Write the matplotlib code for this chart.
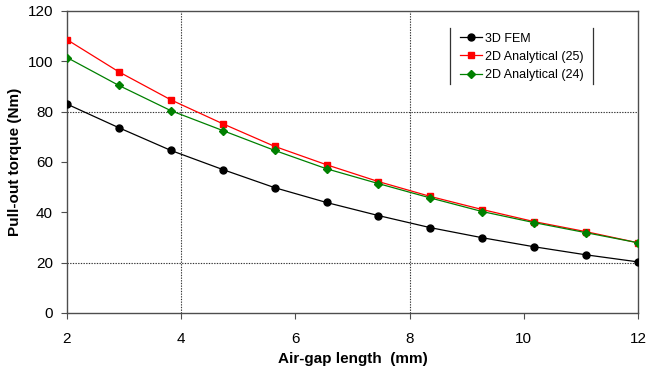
import matplotlib
matplotlib.use("Agg")
import matplotlib.pyplot as plt
from matplotlib.lines import Line2D

plt.rcParams['font.family'] = ['Liberation Sans', 'DejaVu Sans']

# Air-gap lengths (mm)
air_gap = [2.0, 2.909, 3.818, 4.727, 5.636, 6.545, 7.455, 8.364, 9.273, 10.182, 11.091, 12.0]

# Pull-out torque (Nm)
fem_3d = [83.0, 73.6, 64.6, 57.0, 49.8, 43.9, 38.7, 33.9, 29.9, 26.3, 23.1, 20.3]
analytical_25 = [108.6, 95.8, 84.7, 75.2, 66.2, 58.9, 52.2, 46.3, 41.1, 36.3, 32.3, 27.9]
analytical_24 = [101.5, 90.4, 80.4, 72.5, 64.6, 57.3, 51.4, 45.7, 40.3, 35.9, 31.9, 27.9]

series_labels = ["3D FEM", "2D Analytical (25)", "2D Analytical (24)"]

x_ticks = [2, 4, 6, 8, 10, 12]
y_ticks = [0, 20, 40, 60, 80, 100, 120]

fig = plt.figure(figsize=(6.46, 3.78), dpi=100)
ax = fig.add_axes([0.1037, 0.172, 0.8839, 0.799])

# dotted reference lines
for xv in (4, 8):
    ax.axvline(xv, color='#333333', linestyle=(0, (1.2, 1.2)), lw=0.8, zorder=1)
for yv in (20, 80):
    ax.axhline(yv, color='#333333', linestyle=(0, (1.2, 1.2)), lw=0.8, zorder=1)

ax.plot(air_gap, fem_3d, color='black', lw=0.9, marker='o', markersize=5,
        label=series_labels[0], zorder=3)
ax.plot(air_gap, analytical_25, color='#ff0000', lw=0.9, marker='s', markersize=5,
        label=series_labels[1], zorder=3)
ax.plot(air_gap, analytical_24, color='#008000', lw=0.9, marker='D', markersize=4,
        label=series_labels[2], zorder=4)

ax.set_xlim(2, 12)
ax.set_ylim(0, 120)
ax.set_xticks(x_ticks)
ax.set_yticks(y_ticks)
ax.tick_params(axis='both', direction='out', length=4, width=0.8,
               color='#4d4d4d', labelsize=11)
ax.tick_params(axis='x', pad=10)
ax.tick_params(axis='y', pad=6)

for sp in ax.spines.values():
    sp.set_color('#4d4d4d')
    sp.set_linewidth(1.0)
    sp.set_clip_on(False)

ax.set_xlabel("Air-gap length  (mm)", fontsize=11, fontweight='bold', labelpad=4)
ax.set_ylabel("Pull-out torque (Nm)", fontsize=11, fontweight='bold', labelpad=4)

leg = ax.legend(loc='upper left', bbox_to_anchor=(0.680, 0.945), frameon=False,
                fontsize=9, handlelength=1.76, handletextpad=0.2,
                labelspacing=0.5, borderaxespad=0)

# side borders of the legend box
for xp in (449.5, 593):
    fig.add_artist(Line2D([xp / 646, xp / 646], [1 - 28 / 378, 1 - 84 / 378],
                          transform=fig.transFigure, color='#333333', lw=0.9))

fig.savefig("out.png", dpi=100)
